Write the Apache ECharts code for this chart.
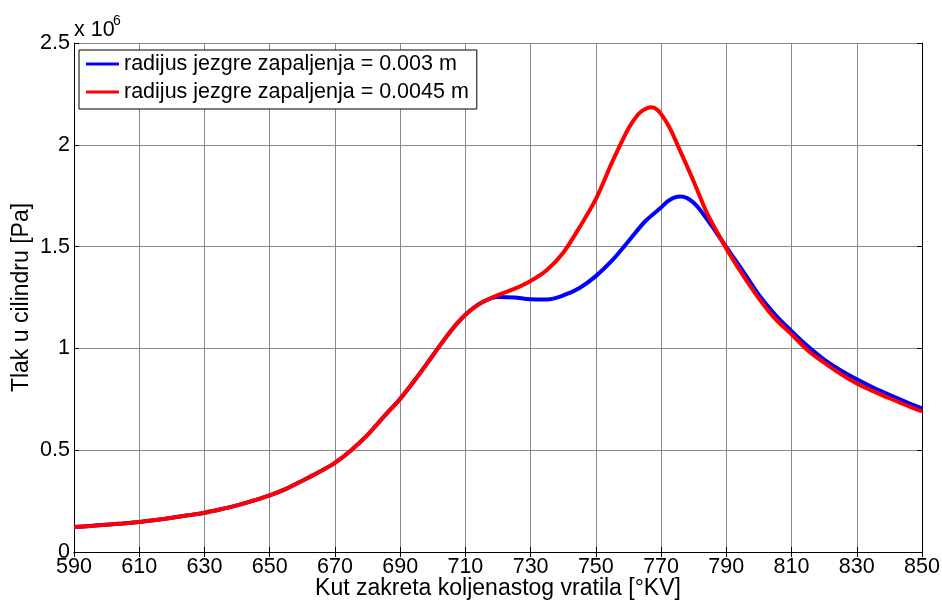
<!DOCTYPE html>
<html>
<head>
<meta charset="utf-8">
<script src="https://cdn.jsdelivr.net/npm/echarts@6/dist/echarts.min.js"></script>
<style>html,body{margin:0;padding:0;background:#fff}#c{width:942px;height:602px}</style>
</head>
<body>
<div id="c"></div>
<script>
// Shared early-compression part (both cases identical)
const sharedAngles = [590,595,600,605,610,615,620,625,630,635,640,645,650,655,660,665,670,675,680,685,690,695,700,705,710,715];
const sharedP =      [0.123,0.128,0.134,0.140,0.147,0.157,0.168,0.180,0.193,0.210,0.229,0.252,0.278,0.310,0.350,0.392,0.438,0.500,0.575,0.665,0.752,0.855,0.965,1.075,1.165,1.225];

// radius 0.003 m (blue) after 715
const blueAngles = [720,725,730,735,740,745,750,755,760,765,770,772,774,776,778,780,782,784,787,790,795,800,805,810,815,820,825,830,835,840,845,850];
const blueP =      [1.253,1.250,1.241,1.240,1.260,1.297,1.355,1.432,1.526,1.622,1.692,1.722,1.740,1.746,1.738,1.715,1.680,1.636,1.568,1.497,1.382,1.262,1.165,1.085,1.010,0.945,0.893,0.848,0.808,0.772,0.738,0.706];

// radius 0.0045 m (red) after 715
const redAngles = [720,725,730,735,740,745,750,755,760,763,765,767,769,771,773,776,780,784,787,790,795,800,805,810,815,820,825,830,835,840,845,850];
const redP =      [1.262,1.292,1.331,1.385,1.470,1.595,1.733,1.915,2.080,2.150,2.175,2.184,2.170,2.128,2.072,1.965,1.820,1.667,1.577,1.490,1.362,1.245,1.145,1.069,0.990,0.930,0.875,0.828,0.790,0.755,0.722,0.690];

const xTicks = [590,610,630,650,670,690,710,730,750,770,790,810,830,850];
const yTicks = [0,0.5,1,1.5,2,2.5];
const seriesNames = ['radijus jezgre zapaljenja = 0.003 m','radijus jezgre zapaljenja = 0.0045 m'];
const scale = 1e6;

function build(a, v){
  const out = [];
  for (let i=0;i<sharedAngles.length;i++) out.push([sharedAngles[i], sharedP[i]*scale]);
  for (let i=0;i<a.length;i++) out.push([a[i], v[i]*scale]);
  return out;
}

const font = 'Liberation Sans, Arial, sans-serif';
const chart = echarts.init(document.getElementById('c'));
const tickLabelStyle = {fontFamily: font, fontSize: 21.5, color: '#000'};
chart.setOption({
  animation: false,
  backgroundColor: '#fff',
  grid: {left: 74, right: 20, top: 43, bottom: 50, containLabel: false, outerBoundsMode: 'none'},
  graphic: [
    {type: 'text', left: 74, top: 19, style: {text: 'x 10', fontFamily: font, fontSize: 21.5, fill: '#000'}},
    {type: 'text', left: 113, top: 14, style: {text: '6', fontFamily: font, fontSize: 14, fill: '#000'}}
  ],
  legend: {
    left: 79, top: 50, orient: 'vertical',
    itemWidth: 33, itemHeight: 3, itemGap: 6, icon: 'rect',
    borderColor: '#000', borderWidth: 1, backgroundColor: '#fff',
    padding: [3, 8, 6, 7],
    textStyle: {fontFamily: font, fontSize: 21.5, color: '#000'},
    data: seriesNames
  },
  xAxis: [{
    type: 'value', min: 590, max: 850, interval: 20,
    name: 'Kut zakreta koljenastog vratila [°KV]', nameLocation: 'middle', nameGap: 25, nameMoveOverlap: false,
    nameTextStyle: {fontFamily: font, fontSize: 23, color: '#000'},
    axisLine: {show: true, lineStyle: {color: '#000', width: 1}},
    axisTick: {show: true, inside: true, length: 5, lineStyle: {color: '#000'}},
    axisLabel: Object.assign({margin: 4, formatter: v => xTicks.includes(v) ? String(v) : ''}, tickLabelStyle),
    splitLine: {show: true, lineStyle: {color: '#8a8a8a', width: 1}}
  },{
    type: 'value', min: 590, max: 850, interval: 20, position: 'top',
    axisLine: {show: true, lineStyle: {color: '#000', width: 1}},
    axisTick: {show: true, inside: true, length: 5, lineStyle: {color: '#000'}},
    axisLabel: {show: false}, splitLine: {show: false}
  }],
  yAxis: [{
    type: 'value', min: 0, max: 2.5e6, interval: 0.5e6,
    name: 'Tlak u cilindru [Pa]', nameLocation: 'middle', nameGap: 41, nameRotate: 90, nameMoveOverlap: false,
    nameTextStyle: {fontFamily: font, fontSize: 23, color: '#000'},
    axisLine: {show: true, lineStyle: {color: '#000', width: 1}},
    axisTick: {show: true, inside: true, length: 5, lineStyle: {color: '#000'}},
    axisLabel: Object.assign({margin: 4, formatter: v => { const t = v/scale; return yTicks.some(k=>Math.abs(k-t)<1e-9) ? String(+t.toFixed(1)) : ''; }}, tickLabelStyle),
    splitLine: {show: true, lineStyle: {color: '#8a8a8a', width: 1}}
  },{
    type: 'value', min: 0, max: 2.5e6, interval: 0.5e6, position: 'right',
    axisLine: {show: true, lineStyle: {color: '#000', width: 1}},
    axisTick: {show: true, inside: true, length: 5, lineStyle: {color: '#000'}},
    axisLabel: {show: false}, splitLine: {show: false}
  }],
  series: [{
    name: seriesNames[0], type: 'line', data: build(blueAngles, blueP),
    smooth: 0.3, showSymbol: false, symbol: 'none',
    lineStyle: {color: '#0000ff', width: 4}, itemStyle: {color: '#0000ff'}
  },{
    name: seriesNames[1], type: 'line', data: build(redAngles, redP),
    smooth: 0.3, showSymbol: false, symbol: 'none',
    lineStyle: {color: '#ff0000', width: 4}, itemStyle: {color: '#ff0000'}
  }]
});
</script>
</body>
</html>
